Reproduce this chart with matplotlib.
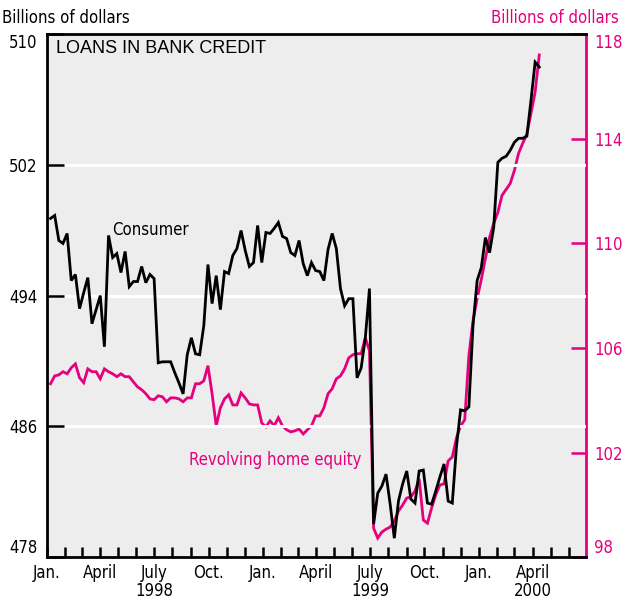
import matplotlib
matplotlib.use('Agg')
import matplotlib.pyplot as plt
import matplotlib.dates as mdates
from matplotlib.ticker import FuncFormatter
import pandas as pd

PINK = '#E5007D'
BG = '#EDEDED'
NARROW = dict(family='DejaVu Sans', stretch='condensed', fontsize=12)

# weekly values, billions of dollars
consumer = [
    498.72, 498.90, 497.37, 497.19, 497.80, 494.92, 495.29, 493.20, 494.18, 495.10,
    492.28, 493.14, 494.00, 490.87, 497.68, 496.33, 496.57, 495.41, 496.70, 494.55,
    494.86, 494.86, 495.78, 494.79, 495.29, 495.04, 489.89, 489.95, 489.95, 489.95,
    489.28, 488.66, 487.99, 490.38, 491.42, 490.44, 490.38, 492.16, 495.90, 493.51,
    495.22, 493.14, 495.47, 495.35, 496.45, 496.88, 497.98, 496.76, 495.78, 496.02,
    498.29, 496.02, 497.86, 497.80, 498.11, 498.47, 497.62, 497.49, 496.63, 496.45,
    497.37, 495.96, 495.22, 496.02, 495.53, 495.47, 494.92, 496.82, 497.80, 496.88,
    494.43, 493.38, 493.81, 493.81, 488.97, 489.58, 491.42, 494.43, 480.02, 481.92,
    482.35, 483.08, 481.24, 479.16, 481.43, 482.47, 483.27, 481.55, 481.31, 483.27,
    483.33, 481.31, 481.24, 482.04, 482.90, 483.70, 481.43, 481.31, 484.74, 487.01,
    486.95, 487.19, 492.16, 494.92, 495.71, 497.55, 496.63, 498.17, 502.15, 502.40,
    502.52, 502.89, 503.38, 503.62, 503.62, 503.75, 505.95, 508.28, 507.98,
]
home_equity = [
    104.63, 104.93, 104.97, 105.09, 105.01, 105.24, 105.39, 104.86, 104.67, 105.20,
    105.09, 105.09, 104.82, 105.20, 105.09, 105.01, 104.90, 105.01, 104.90, 104.90,
    104.70, 104.51, 104.40, 104.25, 104.05, 104.02, 104.17, 104.13, 103.94, 104.09,
    104.09, 104.05, 103.94, 104.09, 104.09, 104.63, 104.63, 104.74, 105.32, 104.25,
    103.02, 103.71, 104.05, 104.21, 103.82, 103.82, 104.28, 104.09, 103.86, 103.82,
    103.82, 103.13, 102.98, 103.21, 103.02, 103.33, 103.02, 102.87, 102.79, 102.83,
    102.90, 102.71, 102.87, 103.02, 103.40, 103.40, 103.71, 104.25, 104.44, 104.82,
    104.93, 105.20, 105.62, 105.74, 105.78, 105.78, 106.39, 105.89, 99.11, 98.73,
    98.96, 99.07, 99.15, 99.38, 99.76, 99.99, 100.26, 100.30, 100.53, 100.99,
    99.42, 99.30, 99.88, 100.38, 100.76, 100.80, 101.68, 101.83, 102.56, 103.02,
    103.25, 105.70, 107.04, 107.89, 108.61, 109.42, 110.22, 110.76, 111.18, 111.83,
    112.06, 112.29, 112.79, 113.44, 113.82, 114.17, 114.97, 115.78, 117.20,
]
weeks = pd.date_range('1998-01-07', periods=len(consumer), freq='7D')

left_ticks = [478, 486, 494, 502, 510]
right_ticks = [98, 102, 106, 110, 114, 118]
month_names = {1: 'Jan.', 4: 'April', 7: 'July', 10: 'Oct.'}
year_under = {(1998, 7), (1999, 7), (2000, 4)}

fig = plt.figure(figsize=(6.31, 6.03), dpi=100)
ax2 = fig.add_axes([0.0745, 0.0760, 0.8542, 0.8676])
ax = ax2.twinx()
ax.yaxis.tick_left()
ax2.yaxis.tick_right()
ax.set_zorder(ax2.get_zorder() + 1)
ax.patch.set_visible(False)
ax2.set_facecolor(BG)

ax2.plot(weeks, home_equity, color=PINK, lw=2.0, solid_joinstyle='miter')
for v in left_ticks[1:-1]:
    ax.axhline(v, color='white', lw=2.2, zorder=0)
ax.plot(weeks, consumer, color='black', lw=2.0, solid_joinstyle='miter')

ax.set_ylim(478, 510)
ax2.set_ylim(98, 118)
ax2.set_xlim(pd.Timestamp('1998-01-01'), pd.Timestamp('2000-06-30'))

for s in ['left', 'top', 'bottom']:
    ax.spines[s].set_linewidth(2.0)
    ax2.spines[s].set_visible(False)
ax.spines['right'].set_visible(False)
ax2.spines['right'].set_color(PINK)
ax2.spines['right'].set_linewidth(2.0)

ax.set_yticks(left_ticks)
ax.set_yticklabels([str(t) for t in left_ticks], **NARROW)
ax.tick_params(axis='y', direction='in', length=12, width=1.8, pad=7)
lbl = ax.get_yticklabels()
lbl[0].set_va('bottom')
lbl[-1].set_va('top')

ax2.set_yticks(right_ticks)
ax2.set_yticklabels([str(t) for t in right_ticks], color=PINK, **NARROW)
ax2.tick_params(axis='y', direction='in', length=11, width=1.8, color=PINK, pad=6)
rl = ax2.get_yticklabels()
rl[0].set_va('bottom')
rl[-1].set_va('top')


def month_label(x, pos):
    d = mdates.num2date(x)
    s = month_names.get(d.month, '')
    if (d.year, d.month) in year_under:
        s += '\n' + str(d.year)
    return s


ax2.xaxis.set_major_locator(mdates.MonthLocator())
ax2.xaxis.set_major_formatter(FuncFormatter(month_label))
ax2.xaxis.set_minor_locator(mdates.MonthLocator(bymonth=1))
ax2.tick_params(axis='x', which='major', direction='in', length=7, width=1.8, pad=5)
ax2.tick_params(axis='x', which='minor', direction='in', length=14, width=1.8)
for t in ax2.get_xticklabels():
    t.set_family('DejaVu Sans')
    t.set_stretch('condensed')
    t.set_fontsize(12)
    t.set_linespacing(1.0)

fig.text(0.003, 0.970, 'Billions of dollars', va='center', ha='left', **NARROW)
fig.text(0.981, 0.970, 'Billions of dollars', va='center', ha='right', color=PINK, **NARROW)
ax.text(0.017, 0.973, 'LOANS IN BANK CREDIT', transform=ax.transAxes, family='Liberation Sans',
        fontsize=13, va='center', ha='left')
ax.text(0.121, 0.625, 'Consumer', transform=ax.transAxes, va='center', **NARROW)
ax.text(0.264, 0.186, 'Revolving home equity', transform=ax.transAxes, va='center',
        color=PINK, **NARROW)

fig.savefig('out.png', dpi=100)
